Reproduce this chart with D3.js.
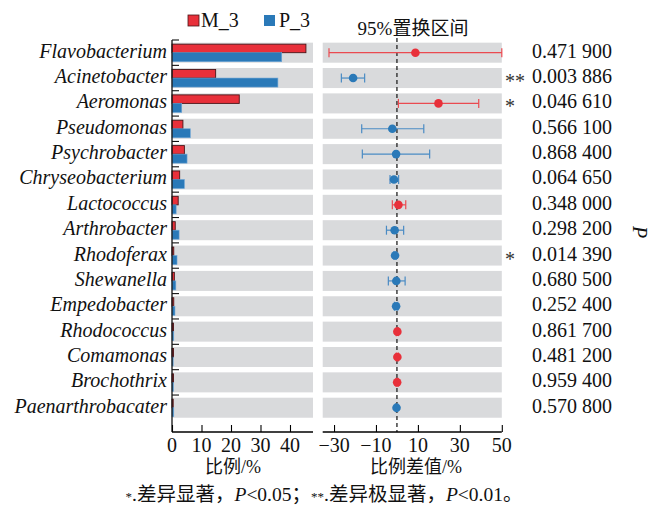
<!DOCTYPE html>
<html>
<head>
<meta charset="utf-8">
<script src="https://cdn.jsdelivr.net/npm/d3@7/dist/d3.min.js"></script>
<style>
  body { margin: 0; background: #fff; }
  svg { display: block; }
</style>
</head>
<body>
<svg id="chart" width="651" height="509"></svg>
<script>
const SERIF = "Liberation Serif";
const SERIF_CJK = "Liberation Serif, Noto Sans CJK SC, serif";

// Genera, top to bottom
const genera = ["Flavobacterium", "Acinetobacter", "Aeromonas", "Pseudomonas", "Psychrobacter",
  "Chryseobacterium", "Lactococcus", "Arthrobacter", "Rhodoferax", "Shewanella",
  "Empedobacter", "Rhodococcus", "Comamonas", "Brochothrix", "Paenarthrobacater"];

// Relative abundance (%) per group
const m3 = [45.4, 14.8, 22.8, 3.7, 4.2, 2.6, 2.1, 1.1, 0.6, 0.8, 0.6, 0.5, 0.5, 0.5, 0.4];
const p3 = [37.2, 35.9, 3.3, 6.2, 5.1, 4.2, 1.4, 2.4, 1.7, 1.3, 1.0, 0.6, 0.4, 0.5, 0.6];

// Difference in proportion (M_3 - P_3) with 95% confidence interval
const diff  = [8.8, -20.9, 19.8, -2.2, -0.4, -1.4, 0.7, -1.1, -0.9, -0.3, -0.4, 0.2, 0.2, 0.1, -0.2];
const lower = [-32.4, -26.5, 0.7, -16.8, -16.5, -3.3, -2.2, -5.0, -1.4, -4.1, -1.2, -0.3, -0.3, -0.4, -0.7];
const upper = [50.0, -15.4, 39.0, 12.8, 15.6, 0.8, 4.2, 3.2, -0.4, 3.9, 0.4, 0.7, 0.7, 0.6, 0.3];

const pValues = ["0.471 900", "0.003 886", "0.046 610", "0.566 100", "0.868 400", "0.064 650",
  "0.348 000", "0.298 200", "0.014 390", "0.680 500", "0.252 400", "0.861 700", "0.481 200",
  "0.959 400", "0.570 800"];
const signif = ["", "**", "*", "", "", "", "", "", "*", "", "", "", "", "", ""];

const leftTicks = [0, 10, 20, 30, 40];
const rightTicks = [-30, -10, 10, 30, 50];

const RED = "#e8303a", BLUE = "#2a79b8", GRAY = "#d9dadc", INK = "#111";

const svg = d3.select("#chart");
const txt = (sel, fam = SERIF) => sel.append("text").style("font-family", fam).attr("fill", INK);

const y = d3.scaleBand().domain(genera).range([40, 420.4]).paddingInner(0.21).paddingOuter(0.105);
const axisY = 432;
const cy = d => y(d) + y.bandwidth() / 2;

// ---------- left panel: abundance bars ----------
const xL = d3.scaleLinear().domain([0, 47.8]).range([172, 313]);

const left = svg.append("g");
left.selectAll("rect.bg").data(genera).join("rect")
  .attr("x", xL(0)).attr("width", xL.range()[1] - xL(0))
  .attr("y", d => y(d)).attr("height", y.bandwidth())
  .attr("fill", GRAY);

const half = y.bandwidth() / 2;
left.selectAll("rect.m").data(genera).join("rect")
  .attr("x", xL(0)).attr("y", d => y(d) + 1.5)
  .attr("width", (d, i) => xL(m3[i]) - xL(0)).attr("height", half - 1.5)
  .attr("fill", RED).attr("stroke", "#4a1518").attr("stroke-width", 0.9);
left.selectAll("rect.p").data(genera).join("rect")
  .attr("x", xL(0)).attr("y", d => y(d) + half)
  .attr("width", (d, i) => xL(p3[i]) - xL(0)).attr("height", half - 1)
  .attr("fill", BLUE).attr("stroke", "#6ea6d6").attr("stroke-width", 0.6);

// category labels
left.selectAll("text.lab").data(genera).join("text")
  .style("font-family", SERIF).attr("fill", INK)
  .attr("x", 167).attr("y", d => cy(d) + 5)
  .attr("text-anchor", "end").attr("font-style", "italic").attr("font-size", 20)
  .text(d => d);

// y axis with inward ticks at the band boundaries
const yLine = left.append("g");
yLine.append("line").attr("x1", 172).attr("x2", 172).attr("y1", 40).attr("y2", axisY)
  .attr("stroke", INK).attr("stroke-width", 1.3);
const step = y.step();
yLine.selectAll("line.t").data(d3.range(genera.length)).join("line")
  .attr("x1", 172).attr("x2", 179)
  .attr("y1", i => 40 + i * step).attr("y2", i => 40 + i * step)
  .attr("stroke", INK).attr("stroke-width", 1.1);

// x axis
const axL = left.append("g").attr("transform", `translate(0,${axisY})`)
  .call(d3.axisTop(xL).tickValues(leftTicks).tickSize(7).tickFormat(""));
axL.select(".domain").attr("d", `M${xL.range()[0]},0H${xL.range()[1]}`).attr("stroke-width", 1.3);
axL.selectAll(".tick line").attr("stroke-width", 1.1);
left.selectAll("text.tl").data(leftTicks).join("text")
  .style("font-family", SERIF).attr("fill", INK)
  .attr("x", d => xL(d)).attr("y", axisY + 20).attr("text-anchor", "middle")
  .attr("font-size", 20).text(d => d);

// ---------- right panel: difference with CI ----------
const xR = d3.scaleLinear().domain([-35.4, 50]).range([322.7, 501.8]);
const right = svg.append("g");
right.selectAll("rect.bg").data(genera).join("rect")
  .attr("x", xR.range()[0]).attr("width", xR.range()[1] - xR.range()[0])
  .attr("y", d => y(d)).attr("height", y.bandwidth())
  .attr("fill", GRAY);

right.append("line").attr("x1", xR(0)).attr("x2", xR(0)).attr("y1", 38).attr("y2", axisY)
  .attr("stroke", "#222").attr("stroke-width", 1.3).attr("stroke-dasharray", "4,3");

const colorOf = i => diff[i] >= 0 ? RED : BLUE;
const lineColorOf = i => diff[i] >= 0 ? "#ea4a50" : "#4a8bc4";

const ci = right.selectAll("g.ci").data(genera).join("g");
ci.append("line")
  .attr("x1", (d, i) => xR(lower[i])).attr("x2", (d, i) => xR(upper[i]))
  .attr("y1", cy).attr("y2", cy)
  .attr("stroke", (d, i) => lineColorOf(i)).attr("stroke-width", 1.2);
ci.append("line")
  .attr("x1", (d, i) => xR(lower[i])).attr("x2", (d, i) => xR(lower[i]))
  .attr("y1", d => cy(d) - 4.5).attr("y2", d => cy(d) + 4.5)
  .attr("stroke", (d, i) => lineColorOf(i)).attr("stroke-width", 1.2);
ci.append("line")
  .attr("x1", (d, i) => xR(upper[i])).attr("x2", (d, i) => xR(upper[i]))
  .attr("y1", d => cy(d) - 4.5).attr("y2", d => cy(d) + 4.5)
  .attr("stroke", (d, i) => lineColorOf(i)).attr("stroke-width", 1.2);
ci.append("circle")
  .attr("cx", (d, i) => xR(diff[i])).attr("cy", cy).attr("r", 4.3)
  .attr("fill", (d, i) => colorOf(i));

const axR = right.append("g").attr("transform", `translate(0,${axisY})`)
  .call(d3.axisTop(xR).tickValues(rightTicks).tickSize(7).tickFormat(""));
axR.select(".domain").attr("d", `M${xR.range()[0]},0H${xR.range()[1]}`).attr("stroke-width", 1.3);
axR.selectAll(".tick line").attr("stroke-width", 1.1);
right.selectAll("text.tr").data(rightTicks).join("text")
  .style("font-family", SERIF).attr("fill", INK)
  .attr("x", d => xR(d)).attr("y", axisY + 20).attr("text-anchor", "middle")
  .attr("font-size", 20).text(d => d < 0 ? "\u2212" + Math.abs(d) : d);

// title
txt(svg, SERIF_CJK).attr("x", 413).attr("y", 35).attr("text-anchor", "middle")
  .attr("font-size", 19).text("95%置换区间");

// significance marks and p-values
svg.selectAll("text.sig").data(genera).join("text")
  .style("font-family", SERIF).attr("fill", "#333")
  .attr("x", 505).attr("y", d => cy(d) + 10)
  .attr("font-size", 20).text((d, i) => signif[i]);
svg.selectAll("text.pv").data(genera).join("text")
  .style("font-family", SERIF).attr("fill", INK)
  .attr("x", 532).attr("y", d => cy(d) + 5)
  .attr("font-size", 20).text((d, i) => pValues[i]);
txt(svg).attr("transform", "translate(633,232) rotate(90)")
  .attr("text-anchor", "middle").attr("font-style", "italic").attr("font-size", 20).text("P");

// legend
const legend = svg.append("g");
legend.append("rect").attr("x", 188).attr("y", 15).attr("width", 11).attr("height", 11)
  .attr("fill", RED).attr("stroke", "#4a1518").attr("stroke-width", 0.8);
txt(legend).attr("x", 201).attr("y", 27).attr("font-size", 20).text("M_3");
legend.append("rect").attr("x", 264).attr("y", 15).attr("width", 11).attr("height", 11)
  .attr("fill", BLUE);
txt(legend).attr("x", 279).attr("y", 27).attr("font-size", 20).text("P_3");

// axis titles
txt(svg, SERIF_CJK).attr("x", 233).attr("y", 473).attr("text-anchor", "middle")
  .attr("font-size", 18).text("比例/%");
txt(svg, SERIF_CJK).attr("x", 416).attr("y", 473).attr("text-anchor", "middle")
  .attr("font-size", 18).text("比例差值/%");

// footnote
const foot = txt(svg, SERIF_CJK).attr("x", 324).attr("y", 501).attr("text-anchor", "middle")
  .attr("font-size", 19.5);
foot.append("tspan").attr("font-size", 13).text("*");
foot.append("tspan").text(".差异显著，");
foot.append("tspan").attr("font-style", "italic").text("P");
foot.append("tspan").text("<0.05；");
foot.append("tspan").attr("font-size", 13).text("**");
foot.append("tspan").text(".差异极显著，");
foot.append("tspan").attr("font-style", "italic").text("P");
foot.append("tspan").text("<0.01。");
</script>
</body>
</html>
